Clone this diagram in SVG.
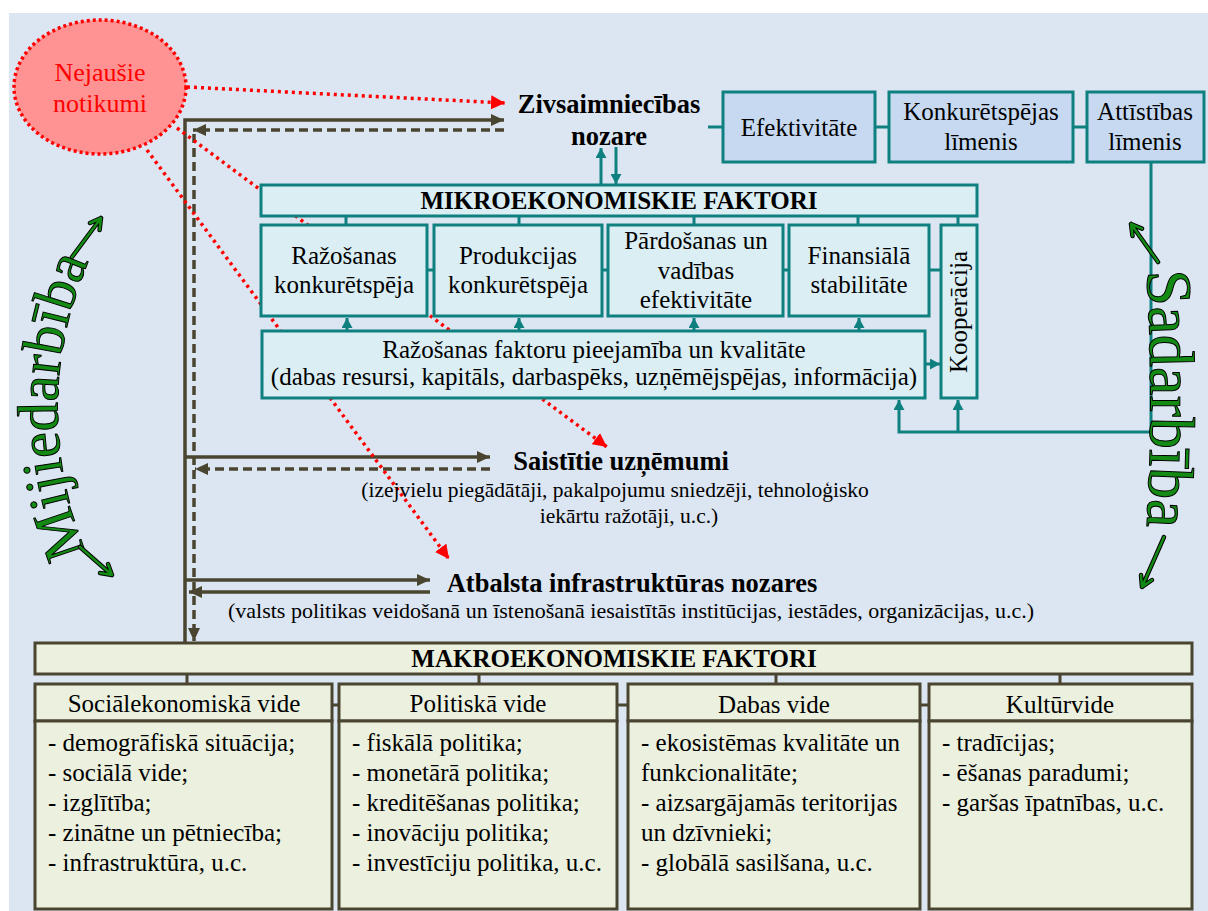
<svg xmlns="http://www.w3.org/2000/svg" width="1208" height="911" viewBox="0 0 1208 911" font-family="Liberation Serif, serif">
<defs>
<style>
text{font-family:"Liberation Serif","Times New Roman",serif;fill:#000;font-size:25px;}
.b{font-weight:bold;}
.m{text-anchor:middle;}
.sm{font-size:21.5px;}
.h{font-size:26.5px;font-weight:bold;}
.cy{fill:#daeef3;stroke:#0f8080;stroke-width:3;}
.bl{fill:#c6d9f1;stroke:#0f8080;stroke-width:3;}
.ol{fill:#ebf1de;stroke:#4a4530;stroke-width:3;}
.tl{stroke:#0f8080;stroke-width:3;fill:none;}
.dk{stroke:#4a4530;stroke-width:3.5;fill:none;}
.ds{stroke-dasharray:9 5;}
.rd{stroke:#ff0000;stroke-width:3.5;fill:none;stroke-dasharray:3 4;}
.wa{font-size:58px;fill:#138a13;stroke:#000;stroke-width:1;}
.wb{font-size:64px;fill:#138a13;stroke:#000;stroke-width:1;}
.ga1{stroke:#000;stroke-width:4.5;fill:none;stroke-linecap:round;stroke-linejoin:round;}
.ga2{stroke:#138a13;stroke-width:2.5;fill:none;stroke-linecap:round;stroke-linejoin:round;}
</style>
<marker id="ad" markerUnits="userSpaceOnUse" markerWidth="14" markerHeight="12" refX="13" refY="6" orient="auto"><path d="M0,0 L13,6 L0,12 z" fill="#4a4530"/></marker>
<marker id="at" markerUnits="userSpaceOnUse" markerWidth="11" markerHeight="11" refX="10" refY="5.5" orient="auto"><path d="M0,0 L10,5.5 L0,11 z" fill="#0f8080"/></marker>
<marker id="ar" markerUnits="userSpaceOnUse" markerWidth="15" markerHeight="14" refX="14" refY="7" orient="auto"><path d="M0,0 L14,7 L0,14 z" fill="#ff0000"/></marker>
<path id="pMij" d="M88,556 A370 370 0 0 1 90,258"/>
<path id="pSad" d="M1146,262 Q1155,398 1146,536"/>
</defs>

<rect x="9" y="13" width="1199" height="898" fill="#dce6f2"/>

<g id="connectors">
  <path class="dk" d="M185,643 V120 H504" marker-end="url(#ad)"/>
  <path class="dk ds" d="M504,130 H193" marker-end="url(#ad)"/>
  <path class="dk ds" d="M194,134 V641" marker-end="url(#ad)"/>
  <path class="dk" d="M185,457 H490" marker-end="url(#ad)"/>
  <path class="dk ds" d="M490,469 H195" marker-end="url(#ad)"/>
  <path class="dk" d="M185,580 H430" marker-end="url(#ad)"/>
  <path class="dk" d="M430,592 H189" marker-end="url(#ad)"/>
  <path class="rd" d="M187,87 L505,103" marker-end="url(#ar)"/>
  <path class="rd" d="M177,128 L607,447" marker-end="url(#ar)"/>
  <path class="rd" d="M147,150 L449,559" marker-end="url(#ar)"/>
  <path class="tl" d="M708,127 H723 M875,127 H889 M1073,127 H1087"/>
  <path class="tl" d="M1151,162 V432 H899 V400" marker-end="url(#at)"/>
  <path class="tl" d="M958,432 V400" marker-end="url(#at)"/>
  <path class="tl" d="M601,185 V148" marker-end="url(#at)"/>
  <path class="tl" d="M616,147 V184" marker-end="url(#at)"/>
  <path class="tl" d="M346,216 V226 M519,216 V226 M694,216 V226 M858,216 V226 M958,216 V226"/>
  <path class="tl" d="M427,270 H434 M602,270 H608 M783,270 H789 M929,270 H941"/>
  <path class="tl" d="M347,331 V318" marker-end="url(#at)"/>
  <path class="tl" d="M519,331 V318" marker-end="url(#at)"/>
  <path class="tl" d="M694,331 V318" marker-end="url(#at)"/>
  <path class="tl" d="M859,331 V318" marker-end="url(#at)"/>
  <path class="tl" d="M925,364 H940" marker-end="url(#at)"/>
  <path class="dk" style="stroke-width:3" d="M187,674 V684 M479,674 V684 M776,674 V684 M1060,674 V684 M332,705 H339 M617,705 H628 M920,705 H929"/>
</g>

<g id="nejausie">
  <ellipse cx="100" cy="87" rx="86" ry="67" fill="#ff9393" stroke="#ff0000" stroke-width="3.5" stroke-dasharray="3 3"/>
  <text class="m" x="100" y="81" style="fill:#ff0000;font-size:26px">Nejaušie</text>
  <text class="m" x="100" y="112" style="fill:#ff0000;font-size:26px">notikumi</text>
</g>

<g id="zivsaimniecibas">
  <text class="h m" x="609" y="113">Zivsaimniecības</text>
  <text class="h m" x="609" y="145">nozare</text>
</g>

<g id="efektivitate">
  <rect class="bl" x="723" y="92" width="152" height="70"/>
  <text class="m" x="799" y="136">Efektivitāte</text>
</g>
<g id="konkuretspejas">
  <rect class="bl" x="889" y="92" width="184" height="70"/>
  <text class="m" x="981" y="120">Konkurētspējas</text>
  <text class="m" x="981" y="150">līmenis</text>
</g>
<g id="attistibas">
  <rect class="bl" x="1087" y="92" width="117" height="70"/>
  <text class="m" x="1145" y="120">Attīstības</text>
  <text class="m" x="1145" y="150">līmenis</text>
</g>

<g id="mikro">
  <rect class="cy" x="261" y="185" width="716" height="31"/>
  <text class="b m" x="619" y="209">MIKROEKONOMISKIE FAKTORI</text>
</g>
<g id="razosanas-konk">
  <rect class="cy" x="261" y="225" width="166" height="91"/>
  <text class="m" x="344" y="264">Ražošanas</text>
  <text class="m" x="344" y="293">konkurētspēja</text>
</g>
<g id="produkcijas-konk">
  <rect class="cy" x="434" y="225" width="168" height="91"/>
  <text class="m" x="518" y="264">Produkcijas</text>
  <text class="m" x="518" y="293">konkurētspēja</text>
</g>
<g id="pardosanas">
  <rect class="cy" x="608" y="225" width="175" height="91"/>
  <text class="m" x="696" y="249">Pārdošanas un</text>
  <text class="m" x="696" y="279">vadības</text>
  <text class="m" x="696" y="308">efektivitāte</text>
</g>
<g id="finansiala">
  <rect class="cy" x="789" y="225" width="140" height="91"/>
  <text class="m" x="859" y="264">Finansiālā</text>
  <text class="m" x="859" y="293">stabilitāte</text>
</g>
<g id="kooperacija">
  <rect class="cy" x="941" y="225" width="36" height="173"/>
  <text class="m" transform="translate(967,312) rotate(-90)">Kooperācija</text>
</g>
<g id="faktoru">
  <rect class="cy" x="262" y="331" width="663" height="67"/>
  <text class="m" x="594" y="358">Ražošanas faktoru pieejamība un kvalitāte</text>
  <text class="m" x="594" y="385">(dabas resursi, kapitāls, darbaspēks, uzņēmējspējas, informācija)</text>
</g>

<g id="saistitie">
  <text class="h m" x="621" y="470">Saistītie uzņēmumi</text>
  <text class="sm m" x="615" y="497">(izejvielu piegādātāji, pakalpojumu sniedzēji, tehnoloģisko</text>
  <text class="sm m" x="629" y="523">iekārtu ražotāji, u.c.)</text>
</g>
<g id="atbalsta">
  <text class="h m" x="632" y="592">Atbalsta infrastruktūras nozares</text>
  <text class="sm m" x="631" y="618" style="font-size:22px">(valsts politikas veidošanā un īstenošanā iesaistītās institūcijas, iestādes, organizācijas, u.c.)</text>
</g>

<g id="makro">
  <rect class="ol" x="35" y="643" width="1157" height="31"/>
  <text class="b m" x="614" y="667">MAKROEKONOMISKIE FAKTORI</text>
</g>
<g id="socialekonomiska">
  <rect class="ol" x="35" y="684" width="297" height="37"/>
  <rect class="ol" x="35" y="721" width="297" height="188"/>
  <text class="m" x="184" y="712">Sociālekonomiskā vide</text>
  <text x="48" y="751">- demogrāfiskā situācija;</text>
  <text x="48" y="781">- sociālā vide;</text>
  <text x="48" y="811">- izglītība;</text>
  <text x="48" y="841">- zinātne un pētniecība;</text>
  <text x="48" y="871">- infrastruktūra, u.c.</text>
</g>
<g id="politiska">
  <rect class="ol" x="339" y="684" width="278" height="37"/>
  <rect class="ol" x="339" y="721" width="278" height="188"/>
  <text class="m" x="478" y="712">Politiskā vide</text>
  <text x="352" y="751">- fiskālā politika;</text>
  <text x="352" y="781">- monetārā politika;</text>
  <text x="352" y="811">- kreditēšanas politika;</text>
  <text x="352" y="841">- inovāciju politika;</text>
  <text x="352" y="871">- investīciju politika, u.c.</text>
</g>
<g id="dabas">
  <rect class="ol" x="628" y="684" width="292" height="37"/>
  <rect class="ol" x="628" y="721" width="292" height="188"/>
  <text class="m" x="774" y="713">Dabas vide</text>
  <text x="641" y="751">- ekosistēmas kvalitāte un</text>
  <text x="641" y="781">funkcionalitāte;</text>
  <text x="641" y="811">- aizsargājamās teritorijas</text>
  <text x="641" y="841">un dzīvnieki;</text>
  <text x="641" y="871">- globālā sasilšana, u.c.</text>
</g>
<g id="kulturvide">
  <rect class="ol" x="929" y="684" width="263" height="37"/>
  <rect class="ol" x="929" y="721" width="263" height="188"/>
  <text class="m" x="1060" y="713">Kultūrvide</text>
  <text x="942" y="751">- tradīcijas;</text>
  <text x="942" y="781">- ēšanas paradumi;</text>
  <text x="942" y="811">- garšas īpatnības, u.c.</text>
</g>

<g id="mijiedarbiba">
  <text class="wa"><textPath href="#pMij" startOffset="50%" text-anchor="middle">Mijiedarbība</textPath></text>
  <path class="ga1" d="M80,547 L112,575 M108,564 L112,575 L100,573"/>
  <path class="ga2" d="M80,547 L112,575 M108,564 L112,575 L100,573"/>
  <path class="ga1" d="M72,257 L101,218 M90,223 L101,218 L99.6,230"/>
  <path class="ga2" d="M72,257 L101,218 M90,223 L101,218 L99.6,230"/>
</g>
<g id="sadarbiba">
  <text class="wb"><textPath href="#pSad" startOffset="50%" text-anchor="middle">Sadarbība</textPath></text>
  <path class="ga1" d="M1158,262 L1131,224 M1132.5,236 L1131,224 L1142,228.6"/>
  <path class="ga2" d="M1158,262 L1131,224 M1132.5,236 L1131,224 L1142,228.6"/>
  <path class="ga1" d="M1164,537 L1142,587 M1152,580 L1142,587 L1141,575"/>
  <path class="ga2" d="M1164,537 L1142,587 M1152,580 L1142,587 L1141,575"/>
</g>
</svg>
